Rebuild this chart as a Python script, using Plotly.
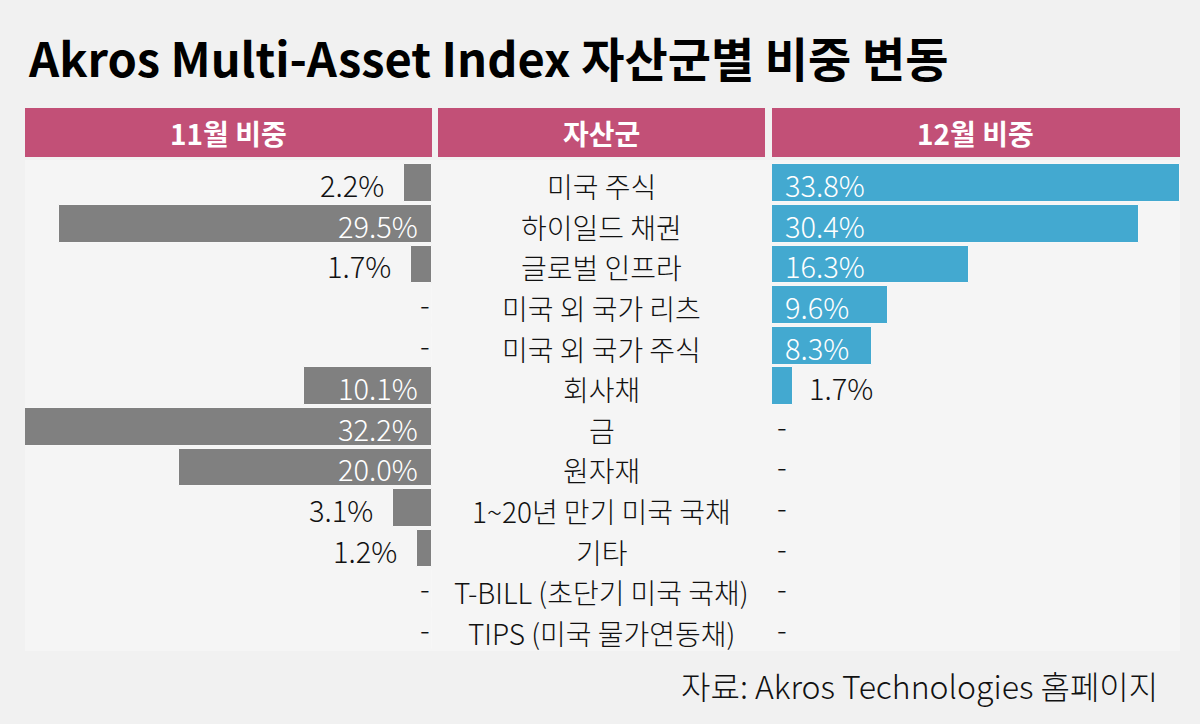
import plotly.graph_objects as go

# ---- data ----
categories = ["미국 주식", "하이일드 채권", "글로벌 인프라", "미국 외 국가 리츠", "미국 외 국가 주식",
              "회사채", "금", "원자재", "1~20년 만기 미국 국채", "기타",
              "T-BILL (초단기 미국 국채)", "TIPS (미국 물가연동채)"]
nov_weights = [2.2, 29.5, 1.7, 0, 0, 10.1, 32.2, 20.0, 3.1, 1.2, 0, 0]
dec_weights = [33.8, 30.4, 16.3, 9.6, 8.3, 1.7, 0, 0, 0, 0, 0, 0]
header_labels = ["11월 비중", "자산군", "12월 비중"]
title_text = "Akros Multi-Asset Index 자산군별 비중 변동"
source_text = "자료: Akros Technologies 홈페이지"

W, H = 1200, 724
FONT = "Noto Sans CJK KR"
BG = "#f1f1f1"
PANEL = "#f5f5f5"
PINK = "#c25077"
GRAY = "#808080"
BLUE = "#43a9d0"

def px_x(p):
    return p / W

def px_y(p):
    return 1 - p / H

left_dom = [px_x(25), px_x(432)]
mid_dom = [px_x(438), px_x(765)]
right_dom = [px_x(772), px_x(1180)]
y_dom = [px_y(650), px_y(163)]

fig = go.Figure()
fig.add_trace(go.Bar(y=categories, x=nov_weights, orientation="h", marker_color=GRAY,
                     marker_line=dict(color="#f7f7f7", width=1),
                     width=0.93, xaxis="x", yaxis="y", hoverinfo="skip", showlegend=False))
fig.add_trace(go.Bar(y=categories, x=dec_weights, orientation="h", marker_color=BLUE,
                     marker_line=dict(color="#f7f7f7", width=1),
                     width=0.93, xaxis="x2", yaxis="y", hoverinfo="skip", showlegend=False))
# invisible anchor trace for the middle (category label) column
fig.add_trace(go.Scatter(y=categories, x=[0.5] * len(categories), mode="markers",
                         marker=dict(opacity=0), xaxis="x3", yaxis="y",
                         hoverinfo="skip", showlegend=False))

annotations = []
for cat in categories:
    annotations.append(dict(x=0.5, y=cat, xref="x3", yref="y", text=cat, showarrow=False,
                            xanchor="center", yshift=-3,
                            font=dict(family=FONT, size=28, color="#111111", weight=300)))

LBL = 29
lbl_font_in = dict(family=FONT, size=LBL, color="white", weight=300)
lbl_font_out = dict(family=FONT, size=LBL, color="#111111", weight=300)
for cat, v in zip(categories, nov_weights):
    if v == 0:
        annotations.append(dict(x=0, y=cat, xref="x", yref="y", text="-", showarrow=False,
                                xanchor="center", xshift=-7, yshift=2, font=lbl_font_out))
    elif v >= 5:
        annotations.append(dict(x=0, y=cat, xref="x", yref="y", text=f"{v:.1f}%", showarrow=False,
                                xanchor="right", xshift=-12, yshift=-1, font=lbl_font_in))
    else:
        annotations.append(dict(x=v, y=cat, xref="x", yref="y", text=f"{v:.1f}%", showarrow=False,
                                xanchor="right", xshift=-18, yshift=-1, font=lbl_font_out))
for cat, v in zip(categories, dec_weights):
    if v == 0:
        annotations.append(dict(x=0, y=cat, xref="x2", yref="y", text="-", showarrow=False,
                                xanchor="center", xshift=10, yshift=2, font=lbl_font_out))
    elif v >= 5:
        annotations.append(dict(x=0, y=cat, xref="x2", yref="y", text=f"{v:.1f}%", showarrow=False,
                                xanchor="left", xshift=11, yshift=-1, font=lbl_font_in))
    else:
        annotations.append(dict(x=v, y=cat, xref="x2", yref="y", text=f"{v:.1f}%", showarrow=False,
                                xanchor="left", xshift=14, yshift=-1, font=lbl_font_out))

shapes = [dict(type="rect", xref="paper", yref="paper", x0=px_x(25), x1=px_x(1180),
               y0=px_y(651), y1=px_y(160), fillcolor=PANEL, line_width=0, layer="below")]
for dom, lab in zip([left_dom, mid_dom, right_dom], header_labels):
    shapes.append(dict(type="rect", xref="paper", yref="paper", x0=dom[0], x1=dom[1],
                       y0=px_y(157), y1=px_y(108), fillcolor=PINK, line_width=0, layer="below"))
    annotations.append(dict(x=(dom[0] + dom[1]) / 2, y=px_y(132.5), xref="paper", yref="paper",
                            text=lab, showarrow=False, xanchor="center", yanchor="middle",
                            font=dict(family=FONT, size=28, color="white", weight="bold")))

annotations.append(dict(x=px_x(26), y=px_y(56), xref="paper", yref="paper", text=title_text,
                        showarrow=False, xanchor="left", yanchor="middle",
                        font=dict(family=FONT, size=47, color="#000000", weight="bold")))
annotations.append(dict(x=px_x(1160), y=px_y(685), xref="paper", yref="paper", text=source_text,
                        showarrow=False, xanchor="right", yanchor="middle",
                        font=dict(family=FONT, size=32, color="#111111", weight=300)))

axis_common = dict(showgrid=False, zeroline=False, showticklabels=False, ticks="", showline=False,
                   fixedrange=True)
fig.update_layout(
    width=W, height=H, margin=dict(l=0, r=0, t=0, b=0),
    paper_bgcolor=BG, plot_bgcolor="rgba(0,0,0,0)",
    xaxis=dict(domain=left_dom, range=[32.2, 0], anchor="y", **axis_common),
    xaxis2=dict(domain=right_dom, range=[0, 33.8], anchor="y", **axis_common),
    xaxis3=dict(domain=mid_dom, range=[0, 1], anchor="y", **axis_common),
    yaxis=dict(domain=y_dom, type="category", categoryorder="array", categoryarray=categories,
               range=[len(categories) - 0.5, -0.5], **axis_common),
    bargap=0, shapes=shapes, annotations=annotations,
    font=dict(family=FONT),
)
fig.write_html("out.html", config={"displayModeBar": False},
               post_script="document.body.style.margin='0';document.body.style.overflow='hidden';")
